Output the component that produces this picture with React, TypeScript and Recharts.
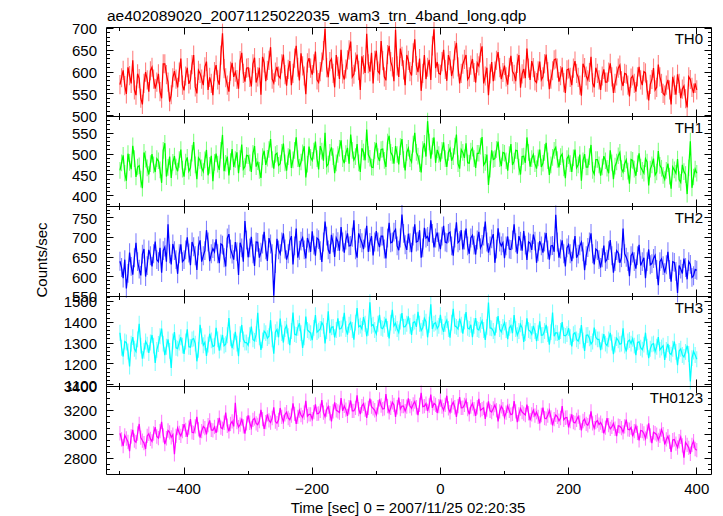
import React from 'react';
import { LineChart, Line, XAxis, YAxis, ErrorBar } from 'recharts';

// ---- data ----
// Bins at T_START + i*T_STEP (arrays "th*") and the bins half a step later (arrays "th*Mid").
const T_START = -500; // first bin time [sec]
const T_STEP = 5; // spacing of the main bins [sec]

const th0 = [
  572, 605, 551, 593, 628, 548, 586, 527, 601, 556,
  612, 563, 597, 541, 620, 578, 549, 603, 566, 632,
  559, 611, 583, 640, 552, 598, 571, 625, 589, 548,
  617, 572, 690, 588, 556, 622, 601, 563, 645, 579,
  611, 568, 634, 590, 549, 622, 605, 658, 576, 613,
  587, 641, 570, 626, 598, 661, 582, 615, 550, 633,
  595, 648, 577, 624, 700, 589, 631, 566, 614, 652,
  584, 629, 671, 596, 641, 560, 618, 689, 602, 575,
  650, 598, 627, 582, 661, 613, 698, 590, 637, 571,
  628, 593, 676, 601, 558, 640, 612, 583, 699, 624,
  596, 652, 581, 627, 608, 668, 575, 619, 640, 590,
  631, 577, 615, 660, 592, 548, 624, 603, 647, 585,
  616, 572, 638, 596, 621, 565, 608, 655, 583, 611,
  577, 625, 590, 641, 562, 604, 631, 579, 612, 553,
  608, 571, 626, 589, 547, 611, 583, 636, 566, 598,
  560, 607, 578, 621, 553, 592, 617, 569, 596, 545,
  592, 556, 613, 571, 599, 536, 584, 560, 618, 575,
  548, 583, 527, 571, 596, 541, 569, 520, 584, 553,
  560,
];
const th0Mid = [
  588, 570, 612, 575, 560, 597, 541, 575, 583, 604,
  585, 578, 556, 620, 595, 533, 588, 585, 601, 571,
  592, 574, 618, 567, 605, 585, 613, 560, 575, 602,
  583, 640, 609, 571, 603, 590, 584, 627, 598, 610,
  589, 620, 577, 611, 636, 580, 628, 585, 601, 592,
  620, 595, 607, 571, 633, 612, 644, 592, 622, 610,
  620, 583, 602, 650, 611, 625, 598, 640, 585, 597,
  608, 652, 590, 624, 605, 637, 599, 620, 645, 628,
  603, 672, 590, 641, 625, 580, 615, 655, 606, 640,
  602, 645, 616, 632, 598, 585, 629, 661, 610, 598,
  625, 607, 640, 592, 650, 613, 598, 630, 584, 617,
  600, 622, 645, 575, 611, 597, 580, 628, 611, 600,
  590, 612, 602, 580, 640, 597, 587, 610, 626, 581,
  604, 583, 620, 602, 585, 629, 610, 593, 577, 606,
  589, 610, 598, 571, 620, 592, 600, 576, 611, 583,
  592, 578, 601, 590, 575, 610, 581, 598, 571, 587,
  575, 590, 583, 602, 560, 573, 610, 566, 590, 552,
  571, 560, 590, 549, 575, 562, 540, 590, 566, 575,
];

const th1 = [
  462, 498, 437, 481, 521, 446, 473, 419, 489, 452,
  501, 458, 485, 432, 527, 469, 444, 496, 460, 512,
  447, 493, 468, 530, 441, 486, 459, 511, 474, 436,
  502, 463, 547, 479, 450, 513, 488, 455, 524, 471,
  497, 458, 520, 483, 444, 509, 491, 537, 466, 503,
  478, 526, 461, 512, 487, 541, 470, 504, 445, 519,
  486, 531, 464, 508, 552, 477, 517, 455, 500, 534,
  479, 516, 548, 487, 525, 458, 506, 560, 491, 469,
  528, 484, 513, 470, 545, 498, 520, 476, 537, 462,
  515, 482, 552, 496, 457, 527, 580, 490, 541, 511,
  483, 529, 470, 514, 495, 548, 466, 505, 527, 479,
  515, 468, 503, 542, 481, 427, 510, 490, 531, 472,
  503, 461, 525, 484, 509, 452, 496, 541, 471, 500,
  466, 512, 479, 528, 451, 493, 517, 469, 501, 443,
  497, 458, 512, 475, 437, 501, 470, 523, 453, 488,
  449, 496, 467, 510, 441, 482, 505, 458, 487, 430,
  486, 449, 503, 462, 490, 426, 475, 451, 508, 467,
  440, 478, 418, 463, 489, 433, 459, 405, 532, 446,
  455,
];
const th1Mid = [
  480, 455, 502, 465, 490, 470, 441, 505, 468, 478,
  475, 490, 463, 510, 447, 495, 481, 470, 488, 465,
  482, 460, 503, 475, 492, 468, 487, 450, 497, 481,
  477, 510, 460, 495, 483, 470, 505, 490, 465, 498,
  480, 503, 471, 462, 495, 475, 512, 488, 500, 474,
  505, 480, 495, 468, 510, 490, 482, 520, 477, 493,
  508, 490, 520, 485, 472, 505, 495, 480, 515, 490,
  502, 478, 510, 495, 480, 515, 486, 500, 470, 510,
  495, 512, 486, 530, 505, 478, 500, 519, 488, 505,
  490, 525, 505, 478, 512, 495, 530, 520, 480, 500,
  510, 490, 505, 485, 520, 478, 512, 492, 480, 508,
  490, 503, 520, 475, 500, 465, 488, 512, 490, 505,
  485, 500, 475, 510, 470, 495, 480, 505, 490, 478,
  492, 470, 505, 485, 475, 510, 488, 495, 468, 490,
  478, 492, 468, 500, 485, 470, 495, 462, 488, 475,
  470, 485, 455, 480, 472, 497, 466, 478, 460, 488,
  465, 478, 470, 455, 482, 465, 490, 458, 474, 450,
  462, 448, 470, 455, 440, 475, 452, 468, 420, 465,
];

const th2 = [
  641, 598, 572, 663, 607, 688, 621, 659, 602, 670,
  628, 691, 640, 612, 677, 735, 633, 668, 609, 684,
  645, 702, 631, 678, 619, 694, 655, 720, 641, 673,
  697, 636, 682, 628, 710, 659, 690, 606, 675, 743,
  651, 703, 629, 689, 664, 716, 642, 685, 553, 698,
  660, 712, 645, 693, 633, 724, 669, 701, 648, 687,
  717, 655, 696, 639, 742, 670, 708, 652, 691, 728,
  663, 712, 681, 745, 650, 699, 672, 731, 689, 656,
  718, 677, 705, 648, 739, 690, 722, 669, 760, 683,
  711, 664, 735, 692, 650, 726, 704, 745, 676, 714,
  672, 731, 688, 715, 655, 740, 693, 671, 724, 660,
  707, 658, 716, 684, 742, 663, 698, 637, 725, 680,
  649, 704, 671, 735, 660, 692, 718, 644, 687, 709,
  637, 692, 663, 713, 645, 681, 759, 650, 694, 628,
  683, 641, 705, 659, 690, 618, 676, 712, 633, 668,
  625, 681, 646, 695, 612, 668, 637, 724, 651, 603,
  662, 622, 683, 640, 598, 671, 635, 656, 580, 647,
  612, 665, 589, 638, 560, 621, 648, 595, 633, 604,
  618,
];
const th2Mid = [
  625, 645, 610, 628, 650, 640, 605, 672, 630, 655,
  660, 645, 675, 668, 640, 660, 685, 645, 660, 640,
  670, 662, 690, 655, 680, 640, 668, 690, 660, 665,
  660, 685, 650, 700, 672, 645, 665, 688, 640, 695,
  675, 660, 690, 650, 685, 670, 700, 660, 635, 670,
  690, 672, 660, 705, 680, 650, 692, 670, 700, 665,
  682, 700, 668, 690, 705, 660, 688, 700, 668, 690,
  695, 680, 702, 670, 712, 688, 700, 665, 705, 690,
  690, 705, 672, 700, 688, 715, 680, 700, 712, 670,
  688, 705, 690, 720, 675, 700, 690, 712, 700, 690,
  705, 690, 712, 680, 700, 688, 720, 695, 680, 700,
  682, 695, 675, 705, 690, 680, 710, 672, 690, 688,
  680, 672, 695, 688, 705, 668, 682, 690, 670, 692,
  665, 680, 690, 670, 680, 665, 690, 672, 660, 675,
  660, 672, 650, 680, 665, 655, 690, 660, 672, 645,
  650, 640, 668, 655, 640, 662, 650, 660, 640, 655,
  640, 655, 630, 650, 640, 632, 648, 620, 640, 630,
  632, 620, 640, 615, 630, 610, 625, 640, 600, 620,
];

const th3 = [
  1352, 1238, 1305, 1190, 1331, 1262, 1395, 1228, 1310, 1255,
  1341, 1207, 1298, 1372, 1244, 1320, 1183, 1355, 1276, 1330,
  1251, 1368, 1283, 1324, 1215, 1390, 1292, 1241, 1347, 1286,
  1375, 1266, 1341, 1297, 1422, 1278, 1356, 1240, 1389, 1305,
  1292, 1381, 1313, 1447, 1270, 1359, 1326, 1412, 1251, 1368,
  1420, 1305, 1386, 1292, 1448, 1341, 1397, 1279, 1429, 1358,
  1316, 1436, 1362, 1401, 1301, 1455, 1378, 1330, 1421, 1372,
  1447, 1343, 1402, 1319, 1470, 1386, 1427, 1335, 1498, 1391,
  1346, 1438, 1371, 1419, 1325, 1462, 1397, 1353, 1446, 1381,
  1430, 1341, 1405, 1452, 1362, 1421, 1330, 1488, 1395, 1372,
  1437, 1356, 1412, 1328, 1466, 1380, 1419, 1347, 1451, 1370,
  1331, 1422, 1365, 1408, 1318, 1497, 1373, 1339, 1432, 1356,
  1401, 1321, 1386, 1437, 1340, 1392, 1308, 1421, 1359, 1385,
  1312, 1406, 1341, 1389, 1295, 1449, 1352, 1318, 1403, 1337,
  1374, 1286, 1352, 1312, 1389, 1265, 1341, 1298, 1377, 1320,
  1268, 1345, 1290, 1351, 1249, 1326, 1297, 1373, 1262, 1317,
  1323, 1245, 1308, 1271, 1352, 1230, 1296, 1262, 1331, 1281,
  1222, 1298, 1247, 1310, 1196, 1275, 1236, 1290, 1118, 1262,
  1225,
];
const th3Mid = [
  1280, 1310, 1262, 1300, 1275, 1320, 1290, 1265, 1295, 1305,
  1290, 1270, 1335, 1300, 1285, 1265, 1310, 1280, 1305, 1290,
  1310, 1285, 1320, 1300, 1270, 1335, 1305, 1295, 1315, 1290,
  1320, 1305, 1290, 1340, 1325, 1310, 1300, 1345, 1320, 1305,
  1340, 1320, 1345, 1330, 1315, 1350, 1335, 1320, 1355, 1330,
  1350, 1370, 1335, 1360, 1345, 1375, 1350, 1330, 1365, 1350,
  1375, 1355, 1370, 1385, 1360, 1350, 1380, 1365, 1370, 1390,
  1370, 1390, 1365, 1400, 1380, 1370, 1395, 1375, 1385, 1365,
  1395, 1375, 1390, 1370, 1400, 1385, 1370, 1405, 1380, 1395,
  1385, 1400, 1380, 1395, 1375, 1405, 1390, 1370, 1400, 1385,
  1380, 1395, 1370, 1400, 1385, 1370, 1390, 1405, 1375, 1390,
  1385, 1370, 1390, 1365, 1380, 1375, 1360, 1390, 1370, 1380,
  1365, 1375, 1350, 1370, 1360, 1375, 1350, 1365, 1345, 1360,
  1350, 1340, 1360, 1345, 1355, 1335, 1350, 1360, 1340, 1345,
  1330, 1345, 1320, 1335, 1315, 1340, 1325, 1310, 1330, 1320,
  1310, 1300, 1320, 1305, 1295, 1315, 1300, 1290, 1310, 1300,
  1290, 1305, 1280, 1295, 1285, 1275, 1300, 1285, 1270, 1290,
  1270, 1255, 1275, 1260, 1265, 1245, 1260, 1250, 1230, 1245,
];

const th0123 = [
  3012, 2905, 2968, 2862, 3041, 2937, 3090, 2951, 2880, 3008,
  2944, 3063, 2972, 3108, 2921, 3035, 2978, 2836, 3056, 2990,
  3088, 2982, 3131, 3016, 3150, 2975, 3069, 3002, 3120, 3037,
  3015, 3142, 3050, 3186, 3028, 3111, 3268, 3064, 3135, 3009,
  3162, 3058, 3137, 3083, 3208, 3049, 3171, 3102, 3230, 3096,
  3224, 3108, 3189, 3125, 3262, 3091, 3203, 3146, 3285, 3170,
  3131, 3255, 3178, 3290, 3152, 3236, 3112, 3271, 3196, 3308,
  3241, 3158, 3287, 3199, 3330, 3172, 3259, 3140, 3302, 3221,
  3168, 3296, 3215, 3341, 3187, 3272, 3150, 3311, 3240, 3198,
  3305, 3221, 3278, 3164, 3352, 3239, 3199, 3336, 3262, 3182,
  3294, 3205, 3327, 3188, 3272, 3150, 3315, 3226, 3289, 3171,
  3262, 3158, 3301, 3215, 3133, 3280, 3190, 3249, 3112, 3238,
  3146, 3241, 3168, 3282, 3105, 3219, 3177, 3252, 3121, 3206,
  3189, 3095, 3228, 3134, 3204, 3078, 3166, 3117, 3241, 3142,
  3061, 3170, 3098, 3152, 3036, 3131, 3079, 3196, 3055, 3118,
  3102, 3011, 3139, 3049, 3094, 2988, 3071, 3020, 3126, 3042,
  2986, 3074, 2952, 3031, 2968, 3095, 2930, 3012, 2957, 3043,
  2918, 2987, 2856, 2960, 2892, 2981, 2807, 2915, 2840, 2946,
  2870,
];
const th0123Mid = [
  2960, 2995, 2940, 2985, 2950, 3010, 2975, 2930, 2990, 2965,
  3010, 2985, 3030, 2995, 2970, 3020, 3000, 2990, 3015, 3030,
  3040, 3060, 3020, 3070, 3045, 3030, 3055, 3080, 3040, 3065,
  3080, 3060, 3100, 3075, 3090, 3070, 3105, 3085, 3070, 3095,
  3100, 3125, 3095, 3115, 3130, 3105, 3120, 3140, 3110, 3125,
  3150, 3170, 3140, 3160, 3175, 3150, 3165, 3185, 3155, 3170,
  3190, 3175, 3200, 3185, 3210, 3180, 3195, 3205, 3185, 3200,
  3210, 3230, 3200, 3225, 3215, 3240, 3210, 3225, 3235, 3205,
  3230, 3245, 3220, 3240, 3225, 3250, 3230, 3215, 3240, 3235,
  3240, 3255, 3230, 3250, 3235, 3260, 3245, 3225, 3250, 3240,
  3235, 3250, 3220, 3245, 3230, 3240, 3225, 3250, 3215, 3235,
  3215, 3230, 3205, 3225, 3210, 3200, 3220, 3205, 3195, 3215,
  3185, 3200, 3175, 3195, 3170, 3190, 3165, 3180, 3170, 3160,
  3150, 3165, 3140, 3160, 3145, 3130, 3150, 3140, 3125, 3145,
  3115, 3105, 3125, 3100, 3115, 3090, 3110, 3095, 3105, 3085,
  3075, 3060, 3080, 3065, 3050, 3075, 3055, 3070, 3045, 3060,
  3030, 3015, 3035, 3010, 3025, 2995, 3020, 3000, 2990, 3005,
  2960, 2940, 2955, 2925, 2945, 2910, 2935, 2890, 2915, 2880,
];

const seriesMain = [th0, th1, th2, th3, th0123];
const seriesMid = [th0Mid, th1Mid, th2Mid, th3Mid, th0123Mid];
const seriesNames = ['TH0', 'TH1', 'TH2', 'TH3', 'TH0123'];
const seriesErrors = [22, 20, 24, 38, 60];
const yDomains: [number, number][] = [
  [498, 702],
  [374, 590],
  [550, 779],
  [1092, 1523],
  [2662, 3400],
];
const yMajorTicks = [
  [500, 550, 600, 650, 700],
  [400, 450, 500, 550],
  [550, 600, 650, 700, 750],
  [1100, 1200, 1300, 1400, 1500],
  [2800, 3000, 3200, 3400],
];
const yMinorStep = [10, 10, 10, 20, 50];
const xTicks = [-500, -400, -300, -200, -100, 0, 100, 200, 300, 400];
const xMajorTicks = [-400, -200, 0, 200, 400];
const xDomain: [number, number] = [-521, 423];

const titleText = 'ae402089020_20071125022035_wam3_trn_4band_long.qdp';
const xTitle = 'Time [sec] 0 = 2007/11/25 02:20:35';
const yTitle = 'Counts/sec';

// ---- styles / layout ----
const colors = ['#ff0000', '#00ff00', '#0000ff', '#00ffff', '#ff00ff'];
const lightColors = ['#ff8080', '#80ff80', '#8080ff', '#80ffff', '#ff80ff'];
const FONT = '"Liberation Sans", Arial, Helvetica, sans-serif';
const panelTops = [27.5, 116.5, 206.5, 296.5, 386.5];
const panelBottom = 474.5;
const PAD = 6;
const PLOT_L = 106.5;
const PLOT_R = 711.5;
const W = 723;
const H = 516;

function buildTicks(domain: [number, number], step: number, majors: number[]) {
  const out: number[] = [];
  const start = Math.ceil(domain[0] / step) * step;
  for (let v = start; v <= domain[1] + 1e-9; v += step) out.push(v);
  majors.forEach((m) => {
    if (!out.includes(m)) out.push(m);
  });
  return out.sort((a, b) => a - b);
}

function panelBottomOf(i: number) {
  return i < 4 ? panelTops[i + 1] : panelBottom;
}

// linear scales matching the plot rectangles used by the charts (for frames / tick marks)
function xScale(v: number) {
  return PLOT_L + ((v - xDomain[0]) / (xDomain[1] - xDomain[0])) * (PLOT_R - PLOT_L);
}
function yScale(i: number, v: number) {
  const d = yDomains[i];
  const top = panelTops[i];
  const bot = panelBottomOf(i);
  return bot - ((v - d[0]) / (d[1] - d[0])) * (bot - top);
}

function makeYLabel(majors: number[]) {
  return (props: any) => {
    const { x, y, payload } = props;
    const v = payload.value;
    if (!majors.includes(v)) return <g />;
    return (
      <text x={Number(x) - 9.5} y={Number(y)} dy="0.36em" textAnchor="end" fontSize={15} fontFamily={FONT} fill="#000">
        {v}
      </text>
    );
  };
}

function makeXLabel(show: boolean) {
  return (props: any) => {
    const { x, y, payload } = props;
    const v = payload.value;
    if (!show || !xMajorTicks.includes(v)) return <g />;
    return (
      <text x={Number(x)} y={Number(y) + 19} textAnchor="middle" fontSize={15} fontFamily={FONT} fill="#000">
        {String(v).replace('-', '\u2212')}
      </text>
    );
  };
}

function Panel({ idx }: { idx: number }) {
  const main = seriesMain[idx];
  const mid = seriesMid[idx];
  const data: { t: number; v: number; e: number }[] = [];
  main.forEach((v, i) => {
    data.push({ t: T_START + i * T_STEP, v, e: seriesErrors[idx] });
    if (i < mid.length) data.push({ t: T_START + i * T_STEP + T_STEP / 2, v: mid[i], e: seriesErrors[idx] });
  });
  const top = panelTops[idx];
  const bottom = panelBottomOf(idx);
  const isLast = idx === 4;
  const bottomAxisH = isLast ? 41.5 : 0;
  const chartTop = top - PAD;
  const chartH = bottom - top + PAD + (isLast ? bottomAxisH : PAD);
  const domain = yDomains[idx];
  const majors = yMajorTicks[idx];
  return (
    <div style={{ position: 'absolute', left: 0, top: chartTop, width: W, height: chartH }}>
      <LineChart
        width={W}
        height={chartH}
        data={data}
        margin={{ top: PAD, right: 0, bottom: isLast ? 0 : PAD, left: 0 }}
      >
        <XAxis
          xAxisId="b"
          dataKey="t"
          type="number"
          orientation="bottom"
          domain={xDomain}
          allowDataOverflow
          ticks={xMajorTicks}
          interval={0}
          height={bottomAxisH}
          tickSize={0}
          tickMargin={0}
          tickLine={false}
          axisLine={false}
          tick={makeXLabel(isLast)}
        />
        <YAxis
          yAxisId="l"
          type="number"
          orientation="left"
          domain={domain}
          allowDataOverflow
          ticks={majors}
          interval={0}
          width={PLOT_L}
          tickSize={0}
          tickMargin={0}
          tickLine={false}
          axisLine={false}
          tick={makeYLabel(majors)}
        />
        <YAxis
          yAxisId="r"
          type="number"
          orientation="right"
          domain={domain}
          allowDataOverflow
          width={W - PLOT_R}
          tick={false}
          tickLine={false}
          axisLine={false}
        />
        <Line
          xAxisId="b"
          yAxisId="l"
          dataKey="v"
          stroke="none"
          dot={false}
          activeDot={false}
          isAnimationActive={false}
        >
          <ErrorBar dataKey="e" width={0} stroke={lightColors[idx]} strokeWidth={1.1} direction="y" isAnimationActive={false} />
        </Line>
        <Line
          xAxisId="b"
          yAxisId="l"
          type="linear"
          dataKey="v"
          stroke={colors[idx]}
          strokeWidth={1.25}
          dot={false}
          activeDot={false}
          isAnimationActive={false}
        />
      </LineChart>
    </div>
  );
}

function Frames() {
  const parts: React.ReactNode[] = [];
  for (let i = 0; i < 5; i++) {
    const top = panelTops[i];
    const bot = panelBottomOf(i);
    const majors = yMajorTicks[i];
    const ticks = buildTicks(yDomains[i], yMinorStep[i], majors);
    let d = `M${PLOT_L},${top}H${PLOT_R}V${bot}H${PLOT_L}Z`;
    ticks.forEach((v) => {
      const y = Math.round(yScale(i, v) - 0.5) + 0.5;
      const len = majors.includes(v) ? 7 : 3.5;
      d += `M${PLOT_L},${y}h${len}M${PLOT_R},${y}h${-len}`;
    });
    xTicks.forEach((v) => {
      const x = Math.round(xScale(v) - 0.5) + 0.5;
      const len = xMajorTicks.includes(v) ? 7 : 3.5;
      d += `M${x},${top}v${len}M${x},${bot}v${-len}`;
    });
    parts.push(<path key={`f${i}`} d={d} stroke="#000" strokeWidth={1} fill="none" />);
  }
  return <g>{parts}</g>;
}

export default function App() {
  return (
    <div style={{ position: 'absolute', left: 0, top: 0, width: W, height: H, background: '#fff', overflow: 'hidden' }}>
      {[0, 1, 2, 3, 4].map((i) => (
        <Panel key={i} idx={i} />
      ))}
      <svg
        width={W}
        height={H}
        style={{ position: 'absolute', left: 0, top: 0, pointerEvents: 'none' }}
      >
        <Frames />
        <text x={107} y={20.5} fontSize={15.5} fontFamily={FONT} fill="#000">
          {titleText}
        </text>
        <text x={408} y={513} textAnchor="middle" fontSize={15} fontFamily={FONT} fill="#000">
          {xTitle}
        </text>
        <text
          x={0}
          y={0}
          transform="translate(47,260) rotate(-90)"
          textAnchor="middle"
          fontSize={15}
          fontFamily={FONT}
          fill="#000"
        >
          {yTitle}
        </text>
        {seriesNames.map((n, i) => (
          <text key={n} x={703} y={panelTops[i] + 16} textAnchor="end" fontSize={15} fontFamily={FONT} fill="#000">
            {n}
          </text>
        ))}
      </svg>
    </div>
  );
}
